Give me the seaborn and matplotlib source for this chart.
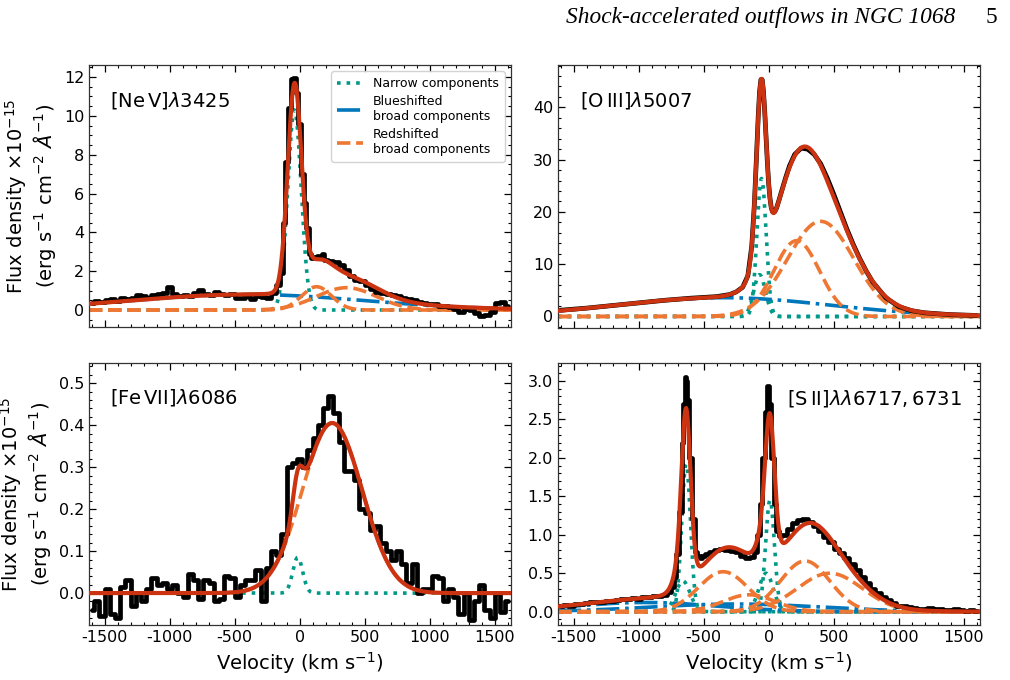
import numpy as np
import pandas as pd
import matplotlib
matplotlib.use("Agg")
import matplotlib.pyplot as plt
import seaborn as sns
from matplotlib.ticker import AutoMinorLocator, MultipleLocator

# ------------------------------------------------------------------
# Observed spectra (read from the figure)
# ------------------------------------------------------------------
nev_vel = [-1600, -1560, -1520, -1480, -1440, -1400, -1360, -1320, -1280, -1240,
           -1200, -1160, -1120, -1080, -1040, -1000, -960, -920, -880, -840,
           -800, -760, -720, -680, -640, -600, -560, -520, -480, -440,
           -400, -360, -320, -280, -240, -200, -160,
           -140, -120, -100, -80, -60, -40, -20, 0, 20, 40, 60, 80, 100, 120, 140, 160, 180, 200,
           240, 280, 320, 360, 400, 440, 480, 520, 560, 600, 640, 680, 720, 760, 800,
           840, 880, 920, 960, 1000, 1040, 1080, 1120, 1160, 1200, 1240, 1280, 1320, 1360,
           1400, 1440, 1480, 1520, 1560, 1600]
nev_flux = [0.38, 0.45, 0.42, 0.50, 0.55, 0.48, 0.62, 0.55, 0.60, 0.75,
            0.72, 0.62, 0.78, 0.80, 0.86, 1.18, 0.80, 0.72, 0.78, 0.70,
            0.90, 1.02, 0.82, 0.78, 0.92, 0.80, 0.76, 0.84, 0.62, 0.60,
            0.70, 0.58, 0.72, 0.66, 0.62, 0.90, 1.30,
            1.90, 4.50, 7.60, 10.4, 11.9, 11.95, 11.2, 9.6, 7.0, 5.5, 4.2, 2.9, 2.7, 2.75, 2.8, 2.7, 2.9, 2.6,
            2.5, 2.45, 2.3, 2.05, 1.75, 1.55, 1.5, 1.3, 1.1, 0.95, 0.9, 0.8, 0.75, 0.72, 0.62,
            0.55, 0.5, 0.42, 0.35, 0.32, 0.3, 0.22, 0.2, 0.18, 0.05, -0.09, 0.05, 0.0, -0.15,
            -0.3, -0.25, -0.1, 0.35, 0.43, 0.2]

oiii_vel = [-1600, -1400, -1200, -1000, -800, -600, -400, -300, -250, -200, -160, -130,
            -110, -95, -80, -70, -60, -50, -40, -30, -20, -10, 0, 10, 20, 30, 45, 60,
            80, 100, 130, 160, 200, 250, 300, 350, 400, 450, 500, 550, 600, 650, 700,
            750, 800, 900, 1000, 1100, 1200, 1400, 1600]
oiii_flux = [1.2, 1.6, 2.1, 2.6, 3.1, 3.5, 3.8, 4.2, 4.7, 5.6, 7.8, 13.5,
             21.5, 29.9, 38.5, 43.0, 45.3, 45.3, 43.0, 39.0, 34.2, 29.5, 25.4, 22.6, 20.8, 20.0, 20.0, 20.7,
             22.3, 24.0, 26.5, 28.8, 31.0, 32.2, 32.0, 31.0, 29.2, 26.5, 23.4, 20.1, 16.8, 13.8, 11.1,
             8.7, 6.6, 3.6, 1.9, 1.1, 0.7, 0.35, 0.2]

fevii_vel = list(range(-1600, 1601, 40))
fevii_flux = [-0.04, -0.02, -0.055, 0.01, -0.05, -0.06, 0.015, 0.03, -0.03, 0.0,
              -0.02, 0.01, 0.035, 0.02, 0.025, 0.01, 0.02, 0.0, -0.01, 0.045,
              0.03, -0.015, 0.03, 0.025, -0.02, -0.015, 0.04, 0.035, -0.01, 0.02,
              0.03, 0.03, 0.055, -0.02, 0.06, 0.10, 0.09, 0.14, 0.30, 0.31,
              0.32, 0.30, 0.34, 0.37, 0.40, 0.44, 0.47, 0.43, 0.36, 0.29,
              0.29, 0.27, 0.20, 0.19, 0.15, 0.16, 0.12, 0.10, 0.08, 0.10,
              0.07, 0.025, 0.07, 0.0, 0.01, 0.01, 0.04, 0.035, -0.02, 0.01,
              -0.01, -0.05, 0.0, -0.065, -0.02, 0.02, -0.04, -0.06, 0.0, -0.045, -0.02]

sii_vel = [-1600, -1560, -1520, -1480, -1440, -1400, -1360, -1320, -1280, -1240,
           -1200, -1160, -1120, -1080, -1040, -1000, -960, -920, -880, -840, -800, -760,
           -740, -720, -700, -680, -660, -650, -640, -630, -620,
           -600, -580, -560, -540, -520, -500, -480,
           -440, -400, -360, -320, -280, -240, -200, -160, -120,
           -100, -80, -60, -40, -20, -5, 10, 30, 50, 70, 90,
           120, 160, 200, 240, 280, 320, 360, 400, 440, 480, 520, 560, 600, 640, 680,
           720, 760, 800, 840, 880, 920, 960, 1000, 1040, 1080, 1120, 1160, 1200, 1240,
           1280, 1320, 1360, 1400, 1440, 1480, 1520, 1560, 1600]
sii_flux = [0.08, 0.09, 0.08, 0.10, 0.10, 0.11, 0.12, 0.12, 0.13, 0.14,
            0.14, 0.15, 0.16, 0.16, 0.18, 0.17, 0.19, 0.19, 0.20, 0.21, 0.22, 0.26,
            0.32, 0.45, 0.75, 1.3, 2.2, 2.7, 3.05, 3.0, 2.75,
            2.0, 1.2, 0.78, 0.72, 0.70, 0.72, 0.75,
            0.78, 0.80, 0.81, 0.80, 0.79, 0.77, 0.72, 0.70, 0.71,
            0.78, 1.0, 1.4, 2.0, 2.6, 2.93, 2.7, 2.0, 1.4, 1.05, 0.98,
            1.0, 1.08, 1.15, 1.19, 1.20, 1.17, 1.12, 1.05, 0.97, 0.90, 0.82, 0.76, 0.70, 0.62, 0.54,
            0.45, 0.37, 0.30, 0.24, 0.19, 0.15, 0.11, 0.08, 0.07, 0.06, 0.05, 0.04, 0.04, 0.05,
            0.03, 0.03, 0.02, 0.02, 0.03, 0.02, 0.01, 0.02, 0.01]

# ------------------------------------------------------------------
# Gaussian fit components: amplitude, centre, sigma
# ------------------------------------------------------------------
nev_narrow_amp, nev_narrow_cen, nev_narrow_sig = [10.3], [-40], [52]
nev_blue_amp, nev_blue_cen, nev_blue_sig = [0.80], [-400], [900]
nev_red_amp, nev_red_cen, nev_red_sig = [1.2, 1.15], [130, 360], [115, 230]

oiii_narrow_amp, oiii_narrow_cen, oiii_narrow_sig = [26.4, 8.0], [-55, -70], [35, 45]
oiii_blue_amp, oiii_blue_cen, oiii_blue_sig = [3.6], [-350], [820]
oiii_red_amp, oiii_red_cen, oiii_red_sig = [14.5, 18.2], [215, 400], [175, 255]

fevii_narrow_amp, fevii_narrow_cen, fevii_narrow_sig = [0.085], [-15], [38]
fevii_blue_amp, fevii_blue_cen, fevii_blue_sig = [], [], []
fevii_red_amp, fevii_red_cen, fevii_red_sig = [0.405], [250], [230]

sii_narrow_amp = [1.92, 0.40, 1.45, 0.50]
sii_narrow_cen = [-635, -660, 10, -20]
sii_narrow_sig = [34, 55, 34, 55]
sii_blue_amp, sii_blue_cen, sii_blue_sig = [0.12, 0.10], [-950, -250], [550, 650]
sii_red_amp = [0.52, 0.22, 0.66, 0.50]
sii_red_cen = [-350, -150, 280, 470]
sii_red_sig = [190, 200, 190, 250]

panel_titles = [r"[Ne$\,$V]$\lambda$3425", r"[O$\,$III]$\lambda$5007",
                r"[Fe$\,$VII]$\lambda$6086", r"[S$\,$II]$\lambda\lambda6717, 6731$"]
legend_labels = ["Narrow components", "Blueshifted\nbroad components",
                 "Redshifted\nbroad components"]

# ------------------------------------------------------------------
sns.set_theme(style="ticks")
plt.rcParams["font.family"] = ["DejaVu Sans"]
plt.rcParams["axes.unicode_minus"] = False
plt.rcParams["mathtext.fontset"] = "dejavusans"
plt.rcParams["text.color"] = "black"
plt.rcParams["axes.labelcolor"] = "black"
plt.rcParams["xtick.color"] = "black"
plt.rcParams["ytick.color"] = "black"

TEAL, BLUE, ORANGE, RED = "#009988", "#0077BB", "#EE7733", "#CC3311"


def gauss(v, amp, cen, sig):
    return amp * np.exp(-0.5 * ((v - cen) / sig) ** 2)


panels = [
    dict(vel=nev_vel, flux=nev_flux, steps=True,
         narrow=(nev_narrow_amp, nev_narrow_cen, nev_narrow_sig),
         blue=(nev_blue_amp, nev_blue_cen, nev_blue_sig),
         red=(nev_red_amp, nev_red_cen, nev_red_sig),
         ylim=(-0.875, 12.62), major=2, title_xy=(0.05, 0.866), legend=True),
    dict(vel=oiii_vel, flux=oiii_flux, steps=False,
         narrow=(oiii_narrow_amp, oiii_narrow_cen, oiii_narrow_sig),
         blue=(oiii_blue_amp, oiii_blue_cen, oiii_blue_sig),
         red=(oiii_red_amp, oiii_red_cen, oiii_red_sig),
         ylim=(-2.2, 48.1), major=10, title_xy=(0.052, 0.866), legend=False),
    dict(vel=fevii_vel, flux=fevii_flux, steps=True,
         narrow=(fevii_narrow_amp, fevii_narrow_cen, fevii_narrow_sig),
         blue=(fevii_blue_amp, fevii_blue_cen, fevii_blue_sig),
         red=(fevii_red_amp, fevii_red_cen, fevii_red_sig),
         ylim=(-0.076, 0.548), major=0.1, title_xy=(0.05, 0.87), legend=False),
    dict(vel=sii_vel, flux=sii_flux, steps=True,
         narrow=(sii_narrow_amp, sii_narrow_cen, sii_narrow_sig),
         blue=(sii_blue_amp, sii_blue_cen, sii_blue_sig),
         red=(sii_red_amp, sii_red_cen, sii_red_sig),
         ylim=(-0.173, 3.234), major=0.5, title_xy=(0.543, 0.866), legend=False),
]

fig = plt.figure(figsize=(10.1, 6.8), dpi=100)
W, H = 1010, 680
boxes = [(89, 65, 511, 327), (558, 65, 980, 328), (89, 363, 511, 625), (558, 363, 980, 625)]
axes = []
for (x0, y0, x1, y1) in boxes:
    axes.append(fig.add_axes([x0 / W, 1 - y1 / H, (x1 - x0) / W, (y1 - y0) / H]))

vgrid = np.linspace(-1620, 1625, 1600)
XLIM = (-1620, 1625)

for i, (ax, p) in enumerate(zip(axes, panels)):
    handles = [None, None, None]
    total = np.zeros_like(vgrid)
    for kind, color, ls, z, idx in (("narrow", TEAL, ":", 2.0, 0),
                                    ("blue", BLUE, "-.", 2.1, 1),
                                    ("red", ORANGE, "--", 2.2, 2)):
        amps, cens, sigs = p[kind]
        for a, c, s in zip(amps, cens, sigs):
            comp = gauss(vgrid, a, c, s)
            total = total + comp
            sns.lineplot(x=vgrid, y=comp, ax=ax, color=color, linestyle=ls,
                         linewidth=2.6, zorder=z, estimator=None, sort=False,
                         legend=False)
            if handles[idx] is None:
                handles[idx] = ax.lines[-1]
    # observed spectrum
    sns.lineplot(x=np.array(p["vel"], float), y=np.array(p["flux"], float), ax=ax,
                 color="black", linewidth=3.4, zorder=3, estimator=None, sort=False,
                 drawstyle="steps-mid" if p["steps"] else "default", legend=False)
    # total model
    sns.lineplot(x=vgrid, y=total, ax=ax, color=RED, linewidth=3.0, zorder=4,
                 estimator=None, sort=False, legend=False)

    ax.set_xlim(*XLIM)
    ax.set_ylim(*p["ylim"])
    ax.xaxis.set_major_locator(MultipleLocator(500))
    ax.xaxis.set_minor_locator(AutoMinorLocator())
    ax.yaxis.set_major_locator(MultipleLocator(p["major"]))
    ax.yaxis.set_minor_locator(AutoMinorLocator())
    ax.tick_params(which="both", direction="in", top=True, right=True,
                   labelsize=11.5, colors="black")
    ax.tick_params(which="major", length=5, width=0.9)
    ax.tick_params(which="minor", length=2.5, width=0.8)
    for sp in ax.spines.values():
        sp.set_color("#333333")
        sp.set_linewidth(0.9)
    ax.set_xlabel("")
    ax.set_ylabel("")
    if i < 2:
        ax.tick_params(labelbottom=False)
    else:
        ax.set_xlabel(r"Velocity (km s$^{-1}$)", fontsize=14, color="black")
    if i % 2 == 0:
        ax.set_ylabel("Flux density ×10$^{-15}$\n(erg s$^{-1}$ cm$^{-2}$ $\\AA^{-1}$)",
                      fontsize=14, linespacing=1.1, color="black")
    ax.text(p["title_xy"][0], p["title_xy"][1], panel_titles[i], transform=ax.transAxes,
            fontsize=14, ha="left", va="center", color="black")
    if p["legend"]:
        leg = ax.legend(handles, legend_labels, loc="upper right", fontsize=9,
                        handlelength=2.1, framealpha=0.85, borderpad=0.45,
                        labelspacing=0.4)
        for t in leg.get_texts():
            t.set_color("black")

fig.text(955 / W, 1 - 23 / H, "Shock-accelerated outflows in NGC 1068", ha="right",
         va="baseline", fontsize=16.8, family="Liberation Serif", style="italic",
         color="black")
fig.text(997 / W, 1 - 23 / H, "5", ha="right", va="baseline", fontsize=16.8,
         family="Liberation Serif", color="black")

fig.savefig("out.png", dpi=100)
